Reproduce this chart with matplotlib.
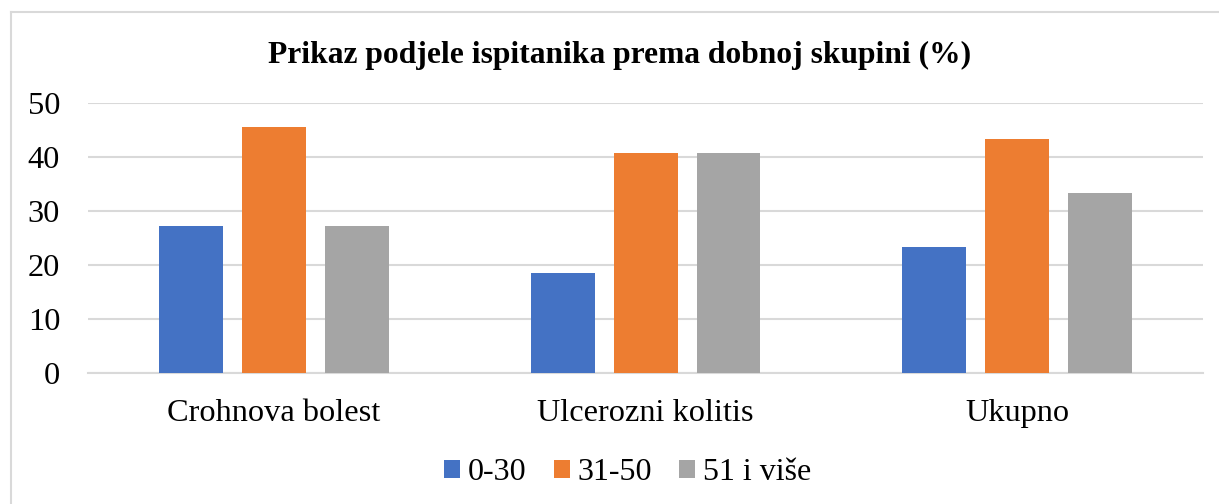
import numpy as np
import matplotlib.pyplot as plt
from matplotlib.lines import Line2D

categories = ["Crohnova bolest", "Ulcerozni kolitis", "Ukupno"]
series_names = ["0-30", "31-50", "51 i više"]
v_0_30 = [27.3, 18.5, 23.3]
v_31_50 = [45.5, 40.7, 43.3]
v_51 = [27.3, 40.7, 33.3]
colors = ["#4472C4", "#ED7D31", "#A5A5A5"]

plt.rcParams['font.family'] = ['Liberation Serif', 'DejaVu Serif']

fig = plt.figure(figsize=(12.19, 5.04), dpi=100)
ax = fig.add_axes([0.0722, 0.2599, 0.9148, 0.5357])

x = np.arange(len(categories))
w = 0.172
step = 0.223
for i, (vals, name) in enumerate(zip([v_0_30, v_31_50, v_51], series_names)):
    ax.bar(x + (i - 1) * step, vals, width=w, color=colors[i], label=name, zorder=3)

ax.set_xlim(-0.5, 2.5)
ax.set_ylim(0, 50)
ax.set_yticks(range(0, 51, 10))
ax.set_xticks(x)
ax.set_xticklabels(categories)
ax.tick_params(axis='both', length=0, labelsize=23.3)
ax.tick_params(axis='x', pad=19)
ax.tick_params(axis='y', pad=20)
ax.grid(axis='y', color='#d9d9d9', linewidth=1.5, zorder=0)
for s in ['top', 'right', 'left']:
    ax.spines[s].set_visible(False)
ax.spines['bottom'].set_color('#d9d9d9')
ax.spines['bottom'].set_linewidth(1.5)

fig.text(0.5085, 0.889, "Prikaz podjele ispitanika prema dobnoj skupini (%)",
         ha='center', va='center', fontsize=22.7, fontweight='bold')

handles, labels = ax.get_legend_handles_labels()
fig.legend(handles, labels, loc='center', bbox_to_anchor=(0.515, 0.062), ncol=3,
           frameon=False, fontsize=23, handlelength=0.5, handleheight=0.5,
           handletextpad=0.25, columnspacing=0.85)

# chart border (left and top only visible)
fig.add_artist(Line2D([11 / 1219, 11 / 1219], [0, 1 - 12 / 504], color='#d9d9d9', linewidth=1.5))
fig.add_artist(Line2D([11 / 1219, 1], [1 - 12 / 504, 1 - 12 / 504], color='#d9d9d9', linewidth=1.5))

fig.savefig("out.png", dpi=100)
